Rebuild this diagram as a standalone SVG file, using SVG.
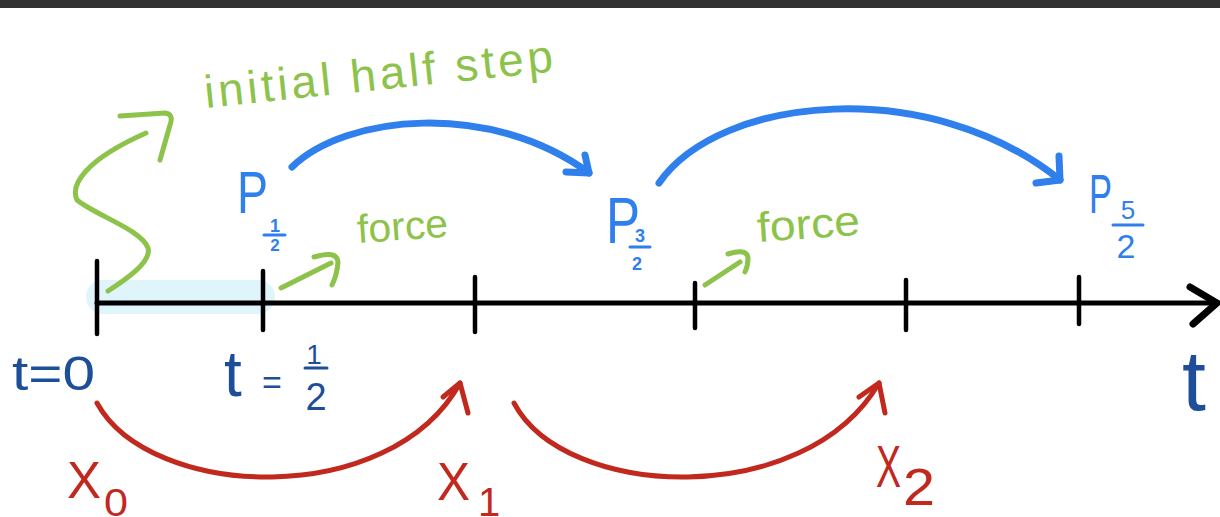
<svg xmlns="http://www.w3.org/2000/svg" width="1220" height="517" viewBox="0 0 1220 517">
<style>
.ax{stroke:#000;stroke-width:5;stroke-linecap:round;fill:none}
.tk{stroke:#000;stroke-width:4.5;stroke-linecap:round}
.bl{stroke:#2f7fec;stroke-width:7;fill:none;stroke-linecap:round;stroke-linejoin:round}
.rd{stroke:#c1281e;stroke-width:5;fill:none;stroke-linecap:round;stroke-linejoin:round}
.gr{stroke:#8dc24b;stroke-width:5;fill:none;stroke-linecap:round;stroke-linejoin:round}
.f{font-family:"Liberation Sans","DejaVu Sans",sans-serif}
.db{fill:#1d4e9a}
.bt{fill:#2f7fec}
.rt{fill:#c1281e}
.gt{fill:#8dc24b}
.fb{stroke-width:3;stroke-linecap:round}
</style>
<rect x="0" y="0" width="1220" height="8" fill="#323232"/>
<rect x="86" y="280" width="189" height="34" rx="17" fill="#dff4fb"/>
<g id="axis">
<line class="ax" x1="97" y1="303" x2="1215" y2="303"/>
<polyline class="ax" points="1190,287 1217,303 1193,324" style="stroke-width:7"/>
<line class="tk" x1="97" y1="261" x2="97" y2="334"/>
<line class="tk" x1="263" y1="271" x2="263" y2="330"/>
<line class="tk" x1="475" y1="277" x2="475" y2="332"/>
<line class="tk" x1="695" y1="283" x2="695" y2="328"/>
<line class="tk" x1="906" y1="280" x2="906" y2="330"/>
<line class="tk" x1="1079" y1="277" x2="1079" y2="324"/>
</g>
<g id="connectors">
<path class="bl" d="M292,167 C345,115 490,100 589,173"/>
<polyline class="bl" points="585,155 589,173 566,172"/>
<path class="bl" d="M659,183 C720,95 930,75 1060,180"/>
<polyline class="bl" points="1059,156 1060,180 1036,183"/>
<path class="rd" d="M97,403 C150,500 390,510 460,383"/>
<polyline class="rd" points="443,397 460,383 468,413"/>
<path class="rd" d="M514,403 C565,500 805,510 879,383"/>
<polyline class="rd" points="859,397 879,383 885,413"/>
<path class="gr" d="M108,291 C125,280 152,262 148,248 C142,230 95,215 77,200 C70,185 85,160 146,133"/>
<path class="gr" d="M120,116 L165,113 Q174,114 170,125 L160,160"/>
<path class="gr" d="M281,288 L331,263"/>
<path class="gr" d="M314,257 Q337,250 338,262 Q337,275 332,285"/>
<path class="gr" d="M705,285 L740,262"/>
<path class="gr" d="M728,254 Q747,248 748,258 Q748,266 745,272"/>
</g>
<g id="label-initial">
<text class="f gt" x="206" y="108" font-size="46" textLength="350" lengthAdjust="spacing" transform="rotate(-6 206 108)">initial half step</text>
</g>
<g id="label-force1">
<text class="f gt" x="358" y="243" font-size="40" textLength="91" lengthAdjust="spacingAndGlyphs" transform="rotate(-4 358 243)">force</text>
</g>
<g id="label-force2">
<text class="f gt" x="758" y="242" font-size="42" textLength="103" lengthAdjust="spacingAndGlyphs" transform="rotate(-4 758 242)">force</text>
</g>
<g id="p-half">
<text class="f bt" x="237" y="213" font-size="60" textLength="31" lengthAdjust="spacingAndGlyphs">P</text>
<text class="f bt" x="275" y="232" font-size="18" text-anchor="middle" font-weight="bold">1</text>
<line class="fb" x1="264" y1="235" x2="285" y2="235" stroke="#2f7fec"/>
<text class="f bt" x="275" y="251" font-size="17" text-anchor="middle" font-weight="bold">2</text>
</g>
<g id="p-3half">
<text class="f bt" x="606" y="243" font-size="64" textLength="34" lengthAdjust="spacingAndGlyphs">P</text>
<text class="f bt" x="640" y="242" font-size="18" text-anchor="middle" font-weight="bold">3</text>
<line class="fb" x1="630" y1="247" x2="650" y2="247" stroke="#2f7fec"/>
<text class="f bt" x="637" y="270" font-size="18" text-anchor="middle" font-weight="bold">2</text>
</g>
<g id="p-5half">
<text class="f bt" x="1089" y="213" font-size="56" textLength="23" lengthAdjust="spacingAndGlyphs">P</text>
<text class="f bt" x="1128" y="219" font-size="26" text-anchor="middle">5</text>
<line class="fb" x1="1113" y1="225" x2="1143" y2="225" stroke="#2f7fec"/>
<text class="f bt" x="1126" y="258" font-size="34" text-anchor="middle">2</text>
</g>
<g id="t0">
<text class="f db" x="12" y="390" font-size="48" textLength="83" lengthAdjust="spacingAndGlyphs">t=0</text>
</g>
<g id="thalf">
<text class="f db" x="224" y="396" font-size="64">t</text>
<text class="f db" x="262" y="394" font-size="34">=</text>
<text class="f db" x="314" y="364" font-size="28" text-anchor="middle">1</text>
<line class="fb" x1="305" y1="368" x2="327" y2="368" stroke="#1d4e9a"/>
<text class="f db" x="316" y="410" font-size="38" text-anchor="middle">2</text>
</g>
<g id="tlabel">
<text class="f db" x="1182" y="410" font-size="86">t</text>
</g>
<g id="x0">
<text class="f rt" x="67" y="498" font-size="52" textLength="34" lengthAdjust="spacingAndGlyphs">X</text>
<text class="f rt" x="104" y="516" font-size="38" textLength="24" lengthAdjust="spacingAndGlyphs">0</text>
</g>
<g id="x1">
<text class="f rt" x="437" y="500" font-size="54" textLength="33" lengthAdjust="spacingAndGlyphs">X</text>
<text class="f rt" x="478" y="516" font-size="40">1</text>
</g>
<g id="x2">
<text class="f rt" x="876" y="487" font-size="60" textLength="25" lengthAdjust="spacingAndGlyphs">X</text>
<text class="f rt" x="903" y="505" font-size="52" textLength="32" lengthAdjust="spacingAndGlyphs">2</text>
</g>
</svg>
